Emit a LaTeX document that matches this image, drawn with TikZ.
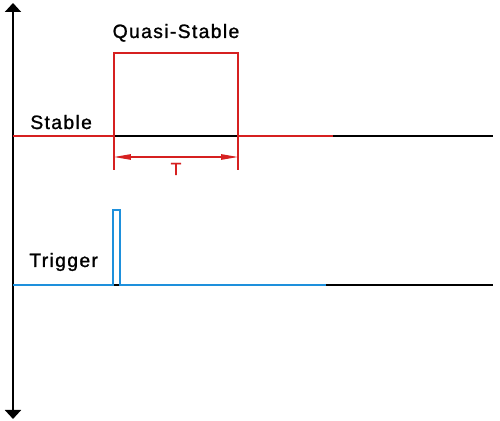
\documentclass[tikz,border=0pt]{standalone}
\usepackage{fontspec}
\setmainfont{Liberation Sans}[LetterSpace=7,FakeBold=1.2]
\usetikzlibrary{arrows.meta}
\definecolor{sigred}{RGB}{214,32,32}
\definecolor{sigblue}{RGB}{30,144,220}
\begin{document}
\begin{tikzpicture}[x=0.02cm,y=-0.02cm,
    wave/.style={line width=1.1pt},
    extline/.style={sigred,line width=0.6pt},
    lbl/.style={font=\fontsize{11}{13}\selectfont,inner sep=0pt}]
  \useasboundingbox (0,0) rectangle (500,421);
  \draw
    (13,3) coordinate (top)
    (13,419) coordinate (bot)
    (13,136) coordinate (s0)
    (114,136) coordinate (s1)
    (114,53) coordinate (s2)
    (238,53) coordinate (s3)
    (238,136) coordinate (s4)
    (333,136) coordinate (s5)
    (493,136) coordinate (s6)
    (114,170) coordinate (e1)
    (238,170) coordinate (e2)
    (114,157) coordinate (d1)
    (238,157) coordinate (d2)
    (13,285) coordinate (t0)
    (113,285) coordinate (t1)
    (113,210) coordinate (t2)
    (120,210) coordinate (t3)
    (120,285) coordinate (t4)
    (326,285) coordinate (t5)
    (493,285) coordinate (t6);
  \node[lbl,anchor=base] (quasi) at (176,38) {Quasi-Stable};
  \node[lbl,anchor=base west] (stable) at (30,129) {Stable};
  \node[lbl,anchor=base west] (trig) at (29,267) {Trigger};
  \node[lbl,anchor=base,sigred,font=\fontsize{10}{12}\selectfont] (tlabel) at (176,175) {T};
  % axis
  \draw[line width=1.1pt,{Triangle[width=3.2mm,length=1.8mm]}-{Triangle[width=3.2mm,length=1.8mm]}] (top) -- (bot);
  % output
  \draw[wave] (s0) -- (s6);
  \draw[wave,sigred] (s0) -- (s1) -- (s2) -- (s3) -- (s4) -- (s5);
  \draw[extline] (s1) -- (e1);
  \draw[extline] (s4) -- (e2);
  \draw[extline,{Triangle[length=3.4mm,width=1.1mm]}-{Triangle[length=3.4mm,width=1.1mm]}] (d1) -- (d2);
  % trigger
  \draw[wave] (t0) -- (t6);
  \draw[wave,sigblue] (t0) -- (t1) -- (t2) -- (t3) -- (t4) -- (t5);
\end{tikzpicture}
\end{document}
